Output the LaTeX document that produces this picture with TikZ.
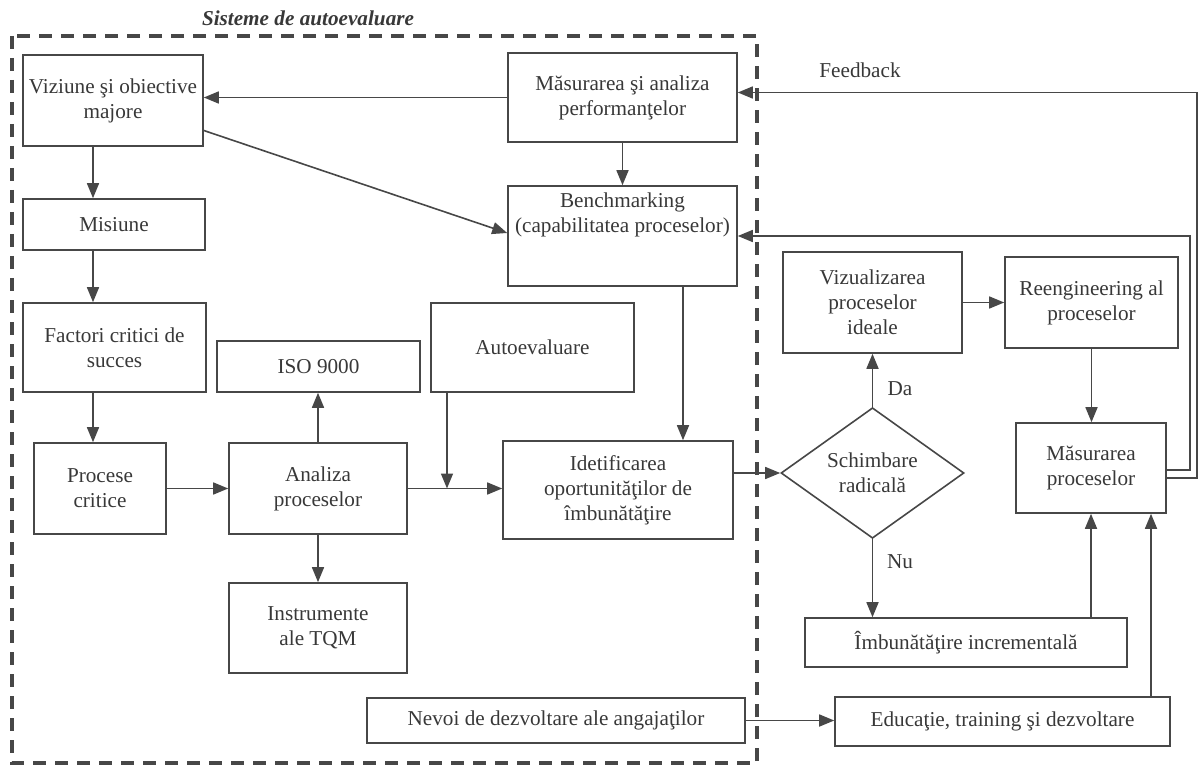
\documentclass[tikz,border=0pt]{standalone}
\usepackage{fontspec}
\setmainfont{Liberation Serif}
\usetikzlibrary{arrows.meta,shapes.geometric,calc}
\definecolor{linec}{HTML}{474747}
\definecolor{txtc}{HTML}{383838}
\newcommand\dfont{\fontsize{10.6}{12.5}\selectfont}
\begin{document}
\begin{tikzpicture}[x=0.5pt,y=-0.5pt,
  box/.style={draw=linec, line width=0.8pt, inner sep=0pt, align=center, text=txtc, font=\dfont},
  txt/.style={inner sep=0pt, align=center, text=txtc, font=\dfont},
  arr/.style={draw=linec, line width=0.8pt, -{Triangle[length=7.5pt,width=6pt]}},
  dashbox/.style={draw=linec, line width=1.6pt, dash pattern=on 6.5pt off 4.5pt}]
\useasboundingbox (0,0) rectangle (1199,770);

% self-assessment frame
\draw[dashbox] (12,36) rectangle (757,763);
\node[txt, font=\dfont\bfseries\itshape] (ttl) at (308,18) {Sisteme de autoevaluare};

% boxes
\node[box, minimum width=90pt, minimum height=45.5pt] (viz) at (113,100.5) {Viziune şi obiective\\majore};
\node[box, minimum width=91pt, minimum height=25.5pt] (mis) at (114,224.5) {Misiune};
\node[box, minimum width=91.5pt, minimum height=44.5pt] (fac) at (114.5,347.5) {Factori critici de\\succes};
\node[box, minimum width=66pt, minimum height=45.5pt] (proc) at (100,488.5) {Procese\\critice};
\node[box, minimum width=101.5pt, minimum height=25.5pt] (iso) at (318.5,366.5) {ISO 9000};
\node[box, minimum width=89pt, minimum height=45.5pt] (anal) at (318,488.5) {Analiza\\proceselor};
\node[box, minimum width=89pt, minimum height=45pt] (instr) at (318,628) {Instrumente\\ale TQM};
\node[box, minimum width=101.5pt, minimum height=44.5pt] (auto) at (532.5,347.5) {Autoevaluare};
\node[box, minimum width=114.5pt, minimum height=44.5pt] (mas) at (622.5,97.5) {Măsurarea şi analiza\\performanţelor};
\node[box, minimum width=114.5pt, minimum height=50pt] (bench) at (622.5,236) {};
\node[txt] (benchtxt) at (622.5,214.5) {Benchmarking\\(capabilitatea proceselor)};
\node[box, minimum width=115pt, minimum height=49pt] (idet) at (618,490) {Idetificarea\\oportunităţilor de\\îmbunătăţire};
\node[box, minimum width=89.5pt, minimum height=50.5pt] (vizi) at (872.5,302.5) {Vizualizarea\\proceselor\\ideale};
\node[box, minimum width=86.5pt, minimum height=45.5pt] (reeng) at (1091.5,302.5) {Reengineering al\\proceselor};
\node[box, shape=diamond, minimum width=91.5pt, minimum height=63pt] (dia) at (872.5,473) {Schimbare\\radicală};
\node[box, minimum width=75pt, minimum height=45pt] (mproc) at (1091,468) {Măsurarea\\proceselor};
\node[box, minimum width=161pt, minimum height=24.5pt] (imb) at (966,642.5) {Îmbunătăţire incrementală};
\node[box, minimum width=167.5pt, minimum height=24.5pt] (edu) at (1002.5,721.5) {Educaţie, training şi dezvoltare};
\node[box, minimum width=189pt, minimum height=22.5pt] (nevoi) at (556,720.5) {Nevoi de dezvoltare ale angajaţilor};

\node[txt] (fbl) at (860,70) {Feedback};
\node[txt] (da) at (900,389) {Da};
\node[txt] (nu) at (900,562) {Nu};

% helper coordinates for connector positions
\coordinate (xL) at (93,0);
\coordinate (xA) at (447,0);
\coordinate (xB) at (683,0);
\coordinate (xI) at (1091,0);
\coordinate (xE) at (1151,0);
\coordinate (fb1) at (1190,470);
\coordinate (fb2) at (1197,478);
\coordinate (vizd) at ($(viz.east)+(0,30)$);
\coordinate (benchin) at ($(bench.west)+(0,-3)$);
\coordinate (fbin) at ($(mas.east)+(0,-5)$);

% connectors
\draw[arr] (mas.west) -- (viz.east |- mas.west);
\draw[arr] (vizd) -- (benchin);
\draw[arr] (mas.south) -- (mas.south |- bench.north);
\draw[arr] (xL |- viz.south) -- (xL |- mis.north);
\draw[arr] (xL |- mis.south) -- (xL |- fac.north);
\draw[arr] (xL |- fac.south) -- (xL |- proc.north);
\draw[arr] (proc.east) -- (proc.east -| anal.west);
\draw[arr] (anal.north) -- (anal.north |- iso.south);
\draw[arr] (anal.south) -- (anal.south |- instr.north);
\draw[arr] (anal.east) -- (anal.east -| idet.west);
\draw[arr] (xA |- auto.south) -- (xA |- anal.east);
\draw[arr] (xB |- bench.south) -- (xB |- idet.north);
\draw[arr] (idet.east |- dia.west) -- (dia.west);
\draw[arr] (dia.north) -- (dia.north |- vizi.south);
\draw[arr] (dia.south) -- (dia.south |- imb.north);
\draw[arr] (vizi.east) -- (vizi.east -| reeng.west);
\draw[arr] (reeng.south) -- (reeng.south |- mproc.north);
\draw[arr] (xI |- imb.north) -- (xI |- mproc.south);
\draw[arr] (xE |- edu.north) -- (xE |- mproc.south);
\draw[arr] (nevoi.east) -- (nevoi.east -| edu.west);

% feedback loops
\draw[arr] (mproc.east |- fb1) -- (fb1) -- (fb1 |- bench.east) -- (bench.east);
\draw[arr] (mproc.east |- fb2) -- (fb2) -- (fb2 |- fbin) -- (fbin);
\end{tikzpicture}
\end{document}
